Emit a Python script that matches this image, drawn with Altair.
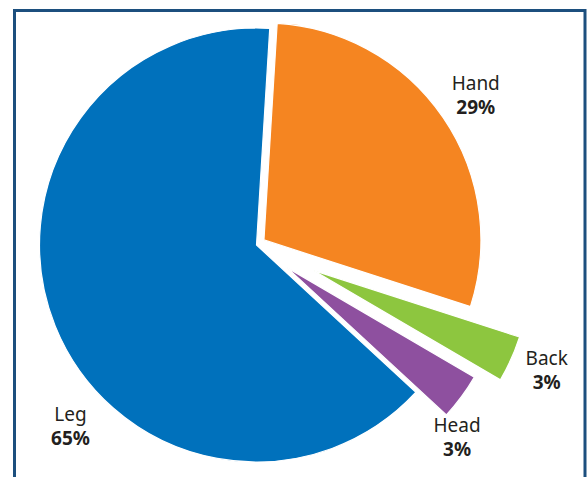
import math
import altair as alt
import pandas as pd

# ---- data ----
categories = ["Hand", "Back", "Head", "Leg"]
shares = [29.0, 3.45, 3.45, 64.1]          # slice sizes
label_text = ["29%", "3%", "3%", "65%"]    # printed labels

# ---- styles ----
colors = ["#F58521", "#8DC63F", "#8E509F", "#0071BC"]
explode = {"Hand": 9, "Back": 62, "Head": 38, "Leg": 0}
label_polar = {"Hand": (55.5, 266), "Back": (113.3, 316), "Head": (133.6, 277), "Leg": (225.9, 259)}
CX, CY, R = 256.5, 245.0, 217
START = math.radians(3.5)
W, H = 587, 477

total = sum(shares)
rows = []
acc = START
for cat, v, lab, col in zip(categories, shares, label_text, colors):
    t0 = acc
    t1 = acc + 2 * math.pi * v / total
    acc = t1
    mid = (t0 + t1) / 2
    d = explode[cat]
    la, lr = label_polar[cat]
    la = math.radians(la)
    rows.append({
        "cat": cat, "share": v, "label": lab, "color": col,
        "t0": t0, "t1": t1,
        "cx": CX + d * math.sin(mid), "cy": CY - d * math.cos(mid),
        "lx": CX + lr * math.sin(la), "ly": CY - lr * math.cos(la),
    })
df = pd.DataFrame(rows)

color_scale = alt.Scale(domain=categories, range=colors)

arcs = alt.Chart(df).mark_arc(radius=R, stroke="white", strokeWidth=1.2).encode(
    theta=alt.Theta("t0:Q", scale=None),
    theta2="t1:Q",
    x=alt.X("cx:Q", scale=None, axis=None),
    y=alt.Y("cy:Q", scale=None, axis=None),
    color=alt.Color("cat:N", scale=color_scale, legend=None),
)

names = alt.Chart(df).mark_text(
    font="Noto Sans", fontSize=19, color="#231F20", baseline="middle", align="center", dy=-10.5
).encode(
    x=alt.X("lx:Q", scale=None, axis=None),
    y=alt.Y("ly:Q", scale=None, axis=None),
    text="cat:N",
)

values = alt.Chart(df).mark_text(
    font="Noto Sans", fontSize=19, fontWeight="bold", color="#231F20", baseline="middle", align="center", dy=13.5
).encode(
    x=alt.X("lx:Q", scale=None, axis=None),
    y=alt.Y("ly:Q", scale=None, axis=None),
    text="label:N",
)

frame = alt.Chart(pd.DataFrame({"k": [0]})).mark_rect(
    fill=None, stroke="#1C4F7E", strokeWidth=3
).encode(
    x=alt.value(14.5), x2=alt.value(585), y=alt.value(10.5), y2=alt.value(520)
)

chart = alt.layer(frame, arcs, names, values).properties(
    width=W, height=H, padding=0, autosize=alt.AutoSizeParams(type="none"),
    background="white",
).configure_view(stroke=None)

chart.save("out.html", embed_options={"renderer": "svg", "actions": False})
